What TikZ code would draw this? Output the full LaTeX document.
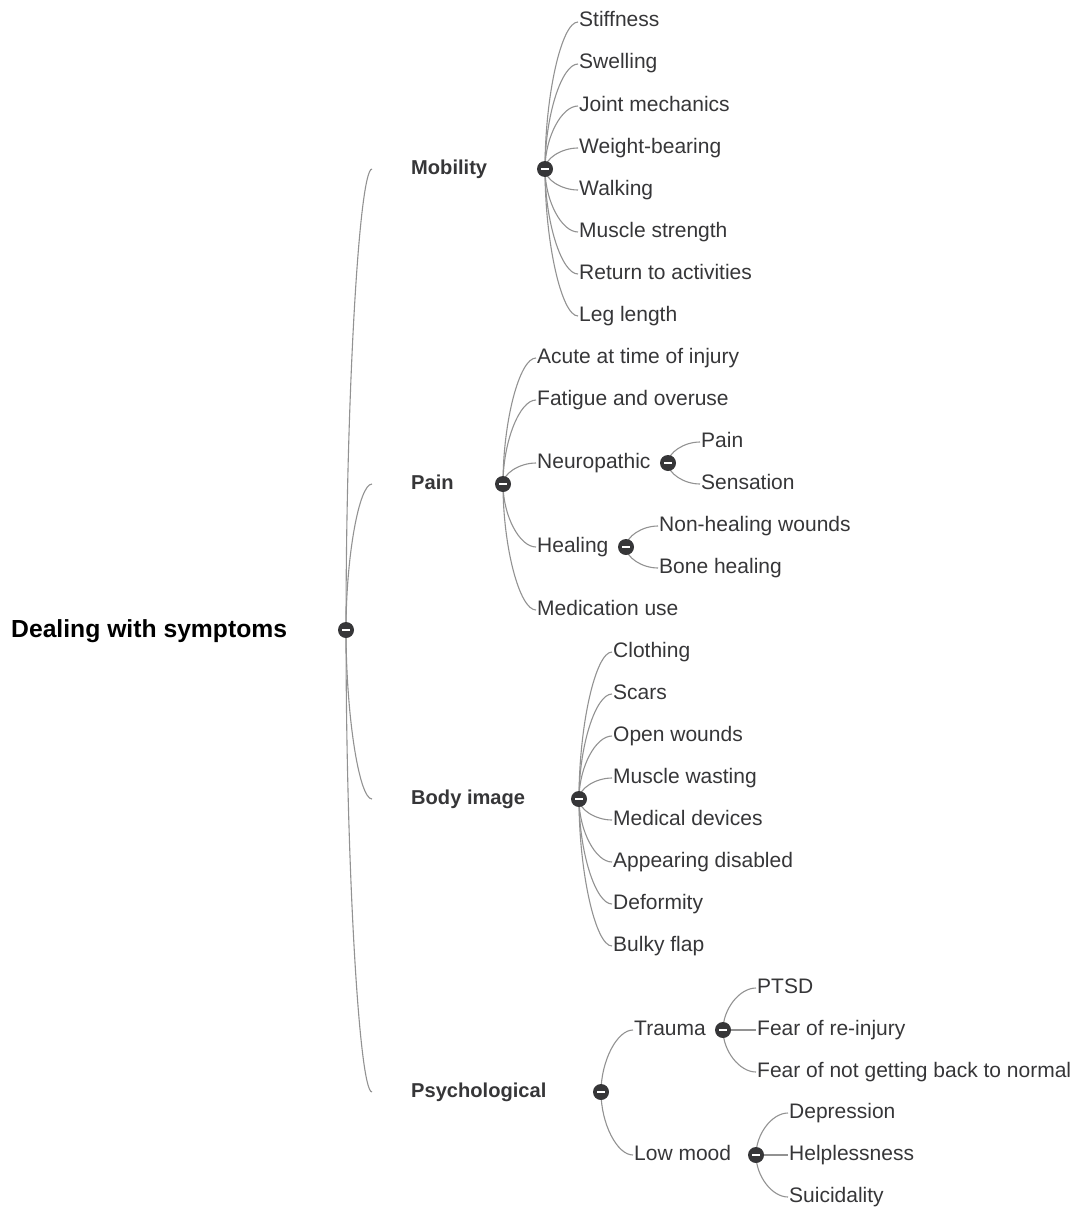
\documentclass[tikz,border=0pt]{standalone}
\usepackage{fontspec}
\setmainfont{Liberation Sans}
\usetikzlibrary{calc, backgrounds}

\definecolor{inkgray}{HTML}{363638}
\definecolor{linkgray}{HTML}{929292}

% curved branch: leaves the knob vertically, arrives horizontally
\newcommand{\branch}[2]{%
  \draw[link] let \p1=(#1), \p2=(#2) in
    (\p1) .. controls (\x1,{(\y1+\y2)/2}) and ({(\x1+\x2)/2},\y2) .. (\p2);}

\begin{document}
\begin{tikzpicture}[
    x=1pt, y=-1pt,
    item/.style={anchor=west, inner xsep=1pt, inner ysep=0pt, text height=14pt, text depth=4pt,
                 text=inkgray, font=\fontsize{21}{25}\selectfont},
    topic/.style={item, font=\fontsize{20.1}{24}\selectfont\bfseries},
    rootnode/.style={anchor=west, inner sep=0pt, text height=17pt, text depth=5pt,
                 text=black, font=\fontsize{24.7}{29}\selectfont\bfseries},
    knob/.style={circle, fill=inkgray, minimum size=16pt, inner sep=0pt,
                 path picture={\fill[white] ([xshift=-4pt,yshift=-1.2pt]path picture bounding box.center)
                               rectangle ([xshift=4pt,yshift=1.2pt]path picture bounding box.center);}},
    link/.style={draw=linkgray, line width=1.1pt}
]
\useasboundingbox (0,0) rectangle (1085,1207);

% Root
\node[rootnode] (root) at (11,631) {Dealing with symptoms};
\node[knob] (rootk) at (346,630) {};

% Main topics
\node[topic] (mob) at (410,169) {Mobility};
\node[topic] (pain) at (410,484) {Pain};
\node[topic] (body) at (410,799) {Body image};
\node[topic] (psy) at (410,1092) {Psychological};

\node[knob] (mobk) at (545,169) {};
\node[knob] (paink) at (503,484) {};
\node[knob] (bodyk) at (579,799) {};
\node[knob] (psyk) at (601,1092) {};

% Mobility
\node[item] (stiff) at (578,22) {Stiffness};
\node[item] (swell) at (578,64) {Swelling};
\node[item] (joint) at (578,106) {Joint mechanics};
\node[item] (weight) at (578,148) {Weight-bearing};
\node[item] (walk) at (578,190) {Walking};
\node[item] (muscle) at (578,232) {Muscle strength};
\node[item] (return) at (578,274) {Return to activities};
\node[item] (leg) at (578,316) {Leg length};

% Pain
\node[item] (acute) at (536,358) {Acute at time of injury};
\node[item] (fatigue) at (536,400) {Fatigue and overuse};
\node[item] (neuro) at (536,463) {Neuropathic};
\node[item] (heal) at (536,547) {Healing};
\node[item] (medic) at (536,610) {Medication use};

\node[knob] (neurok) at (668,463) {};
\node[item] (npain) at (700,442) {Pain};
\node[item] (nsens) at (700,484) {Sensation};

\node[knob] (healk) at (626,547) {};
\node[item] (nonheal) at (658,526) {Non-healing wounds};
\node[item] (bone) at (658,568) {Bone healing};

% Body image
\node[item] (cloth) at (612,652) {Clothing};
\node[item] (scars) at (612,694) {Scars};
\node[item] (open) at (612,736) {Open wounds};
\node[item] (waste) at (612,778) {Muscle wasting};
\node[item] (device) at (612,820) {Medical devices};
\node[item] (appear) at (612,862) {Appearing disabled};
\node[item] (deform) at (612,904) {Deformity};
\node[item] (bulky) at (612,946) {Bulky flap};

% Psychological
\node[item] (trauma) at (633,1030) {Trauma};
\node[item] (low) at (633,1155) {Low mood};

\node[knob] (traumak) at (723,1030) {};
\node[item] (ptsd) at (756,988) {PTSD};
\node[item] (fear) at (756,1030) {Fear of re-injury};
\node[item] (normal) at (756,1072) {Fear of not getting back to normal};

\node[knob] (lowk) at (756,1155) {};
\node[item] (depr) at (788,1113) {Depression};
\node[item] (help) at (788,1155) {Helplessness};
\node[item] (suic) at (788,1197) {Suicidality};

% Branches
\begin{scope}[on background layer]
\branch{rootk.center}{[xshift=-38pt]mob.west}
\branch{rootk.center}{[xshift=-38pt]pain.west}
\branch{rootk.center}{[xshift=-38pt]body.west}
\branch{rootk.center}{[xshift=-38pt]psy.west}

\branch{mobk.center}{stiff.west}
\branch{mobk.center}{swell.west}
\branch{mobk.center}{joint.west}
\branch{mobk.center}{weight.west}
\branch{mobk.center}{walk.west}
\branch{mobk.center}{muscle.west}
\branch{mobk.center}{return.west}
\branch{mobk.center}{leg.west}

\branch{paink.center}{acute.west}
\branch{paink.center}{fatigue.west}
\branch{paink.center}{neuro.west}
\branch{paink.center}{heal.west}
\branch{paink.center}{medic.west}
\branch{neurok.center}{npain.west}
\branch{neurok.center}{nsens.west}
\branch{healk.center}{nonheal.west}
\branch{healk.center}{bone.west}

\branch{bodyk.center}{cloth.west}
\branch{bodyk.center}{scars.west}
\branch{bodyk.center}{open.west}
\branch{bodyk.center}{waste.west}
\branch{bodyk.center}{device.west}
\branch{bodyk.center}{appear.west}
\branch{bodyk.center}{deform.west}
\branch{bodyk.center}{bulky.west}

\branch{psyk.center}{trauma.west}
\branch{psyk.center}{low.west}
\branch{traumak.center}{ptsd.west}
\branch{traumak.center}{fear.west}
\branch{traumak.center}{normal.west}
\branch{lowk.center}{depr.west}
\branch{lowk.center}{help.west}
\branch{lowk.center}{suic.west}
\end{scope}

\end{tikzpicture}
\end{document}
